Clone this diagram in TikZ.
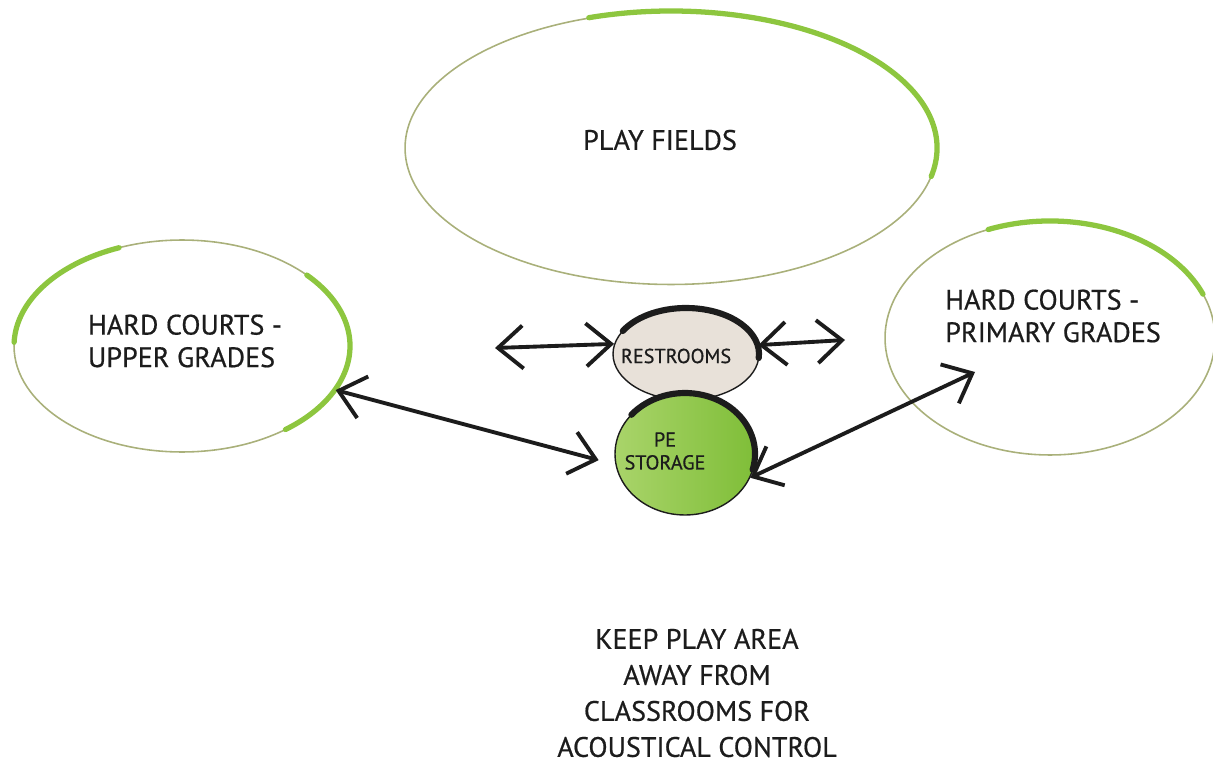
\documentclass[tikz,border=0pt]{standalone}
\usepackage{fontspec}
\setmainfont{PT Sans}
\newfontfamily\inkfont{PT Sans}[FakeBold = 0.6]
\usetikzlibrary{arrows.meta, calc, positioning, shapes.geometric}
\definecolor{zoneG}{HTML}{8DC63F}
\definecolor{zoneT}{HTML}{A9B07A}
\definecolor{restB}{HTML}{E8E1D9}
\definecolor{storeG}{HTML}{7FBE38}
\definecolor{storeL}{HTML}{A9D46A}
\definecolor{inkK}{HTML}{1C1C1C}

\begin{document}
\begin{tikzpicture}[x = 0.02cm, y = 0.02cm,
  zone/.style = {ellipse, draw = zoneT, line width = 0.9pt, inner sep = 0pt},
  zonetext/.style = {text = inkK, font = \inkfont\fontsize{16}{18.5}\selectfont, align = left},
  hub/.style = {ellipse, draw = inkK, line width = 0.8pt, inner sep = 0pt},
  hubtext/.style = {text = inkK, font = \inkfont\fontsize{11.5}{13}\selectfont, align = center},
  rim/.style = {zoneG, line width = 3pt, line cap = round},
  ink/.style = {inkK, line width = 3.5pt, line cap = round},
  biarrow/.style = {inkK, line width = 2.2pt, line cap = round,
    {Straight Barb[length = 5mm, width = 8.6mm]}-{Straight Barb[length = 5mm, width = 8.6mm]}}
]
  \useasboundingbox (0, 0) rectangle (1213, 765);

  % ------------------------
  % play zones
  % ------------------------

  \node[zone, minimum width = 10.64cm, minimum height = 5.46cm] (play) at (671, 617) {};
  \node[zone, minimum width = 6.72cm, minimum height = 4.24cm] (upper) at (182, 419) {};
  \node[zone, minimum width = 6.60cm, minimum height = 4.68cm] (primary) at (1050, 427) {};

  \draw[rim] (play.center) ++(-12:266 and 137) arc[start angle = -12, end angle = 108, x radius = 266, y radius = 137];
  \draw[rim] (upper.center) ++(112:168 and 106) arc[start angle = 112, end angle = 178, x radius = 168, y radius = 106];
  \draw[rim] (upper.center) ++(-52:168 and 106) arc[start angle = -52, end angle = 42, x radius = 168, y radius = 106];
  \draw[rim] (primary.center) ++(22:165 and 117) arc[start angle = 22, end angle = 112, x radius = 165, y radius = 117];

  \node[zonetext] (playT) at (660, 625) {PLAY FIELDS};
  \node[zonetext] (upperT) at (185, 424) {HARD COURTS -\\UPPER GRADES};
  \node[zonetext] (primaryT) at (1053, 449) {HARD COURTS -\\PRIMARY GRADES};

  % ------------------------
  % restrooms and storage
  % ------------------------

  \node[hub, fill = restB, minimum width = 2.92cm, minimum height = 1.84cm] (rest) at (686, 411) {};
  \node[hub, left color = storeL, right color = storeG, minimum width = 2.80cm, minimum height = 2.44cm] (store) at (685, 311) {};

  \draw[ink] (rest.center) ++(-5:73 and 46) arc[start angle = -5, end angle = 150, x radius = 73, y radius = 46];
  \draw[ink] (store.center) ++(-15:70 and 61) arc[start angle = -15, end angle = 140, x radius = 70, y radius = 61];

  \node[hubtext] (restT) at (676, 409) {RESTROOMS};
  \node[hubtext] (storeT) at (665, 314) {PE\\STORAGE};

  % ------------------------
  % connections
  % ------------------------

  \coordinate (westEnd) at (495, 417);
  \coordinate (eastEnd) at (845, 425);
  \coordinate (primEnd) at (975, 393);

  \draw[biarrow] (westEnd) -- (rest.172);
  \draw[biarrow] (rest.7) -- (eastEnd);
  \draw[biarrow] (upper.-16) -- ($(store.185) + (-16, 0)$);
  \draw[biarrow] (store.-20) -- (primEnd);

  % note
  \node[zonetext, align = center, font = \inkfont\fontsize{16}{20.5}\selectfont] (note) at (697, 72)
    {KEEP PLAY AREA\\AWAY FROM\\CLASSROOMS FOR\\ACOUSTICAL CONTROL};
\end{tikzpicture}
\end{document}
